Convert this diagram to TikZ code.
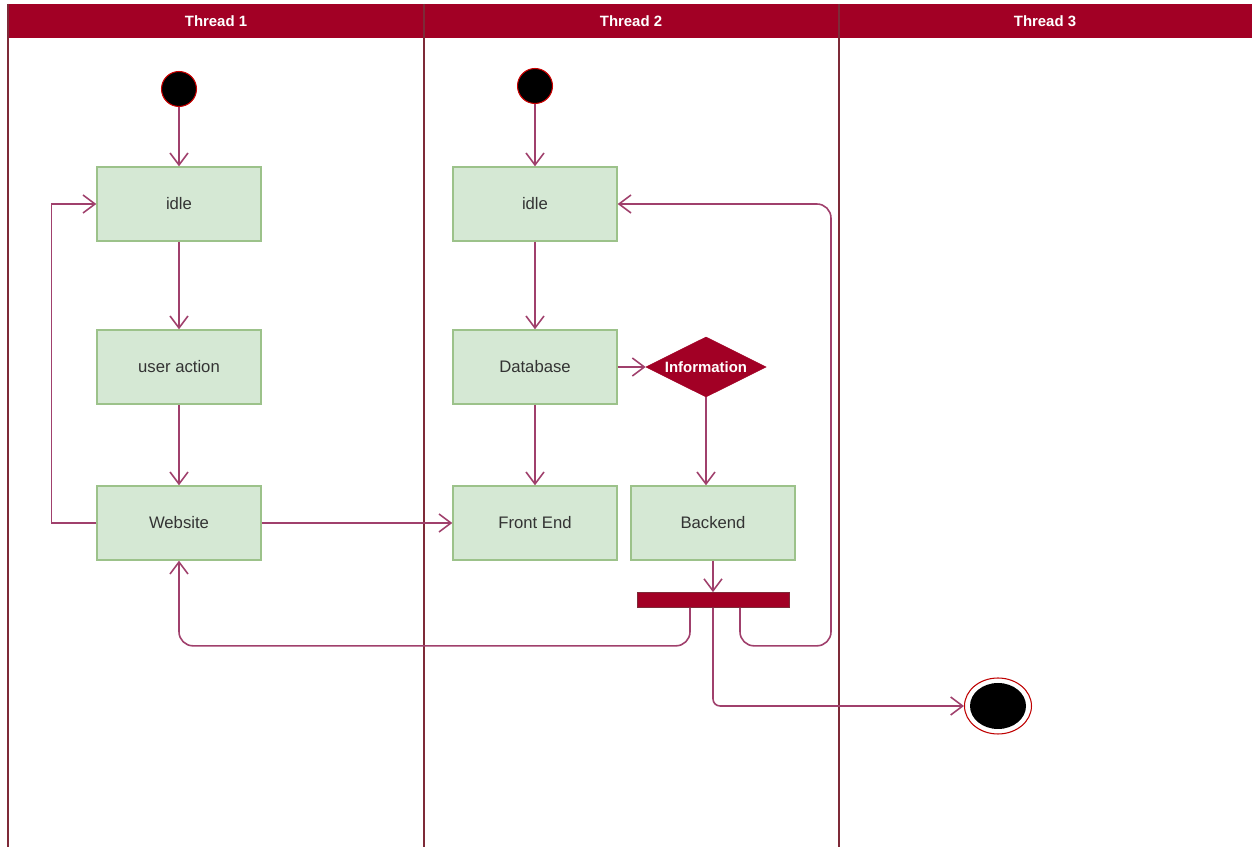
\documentclass[tikz,border=0pt]{standalone}
\usepackage{fontspec}
\setmainfont{Liberation Sans}
\usetikzlibrary{calc, shapes.geometric, arrows.meta}

\definecolor{lanered}{HTML}{A20025}
\definecolor{laneline}{HTML}{7E2A38}
\definecolor{flowc}{HTML}{A0406C}
\definecolor{boxfill}{HTML}{D5E8D4}
\definecolor{boxline}{HTML}{9CC28A}

\tikzset{
	state/.style = {draw=boxline, fill=boxfill, line width=0.8pt, minimum width=3.28cm, minimum height=1.48cm, font=\fontsize{9.5}{11}\selectfont, text=black!80},
	startdot/.style = {circle, fill=black, draw=red!80!black, line width=0.6pt, minimum size=0.7cm, inner sep=0pt},
	flow/.style = {draw=flowc, line width=0.9pt, -{Straight Barb[length=2.4mm, width=3.6mm, line width=0.9pt]}},
	lanetitle/.style = {text=white, font=\bfseries\fontsize{8.5}{10}\selectfont}
}

\begin{document}
\begin{tikzpicture}[x=0.02cm, y=-0.02cm]
	\useasboundingbox (0,0) rectangle (1252,847);
	\fill[white] (0,0) rectangle (1252,847);

	% lanes
	\fill[lanered] (8,4) rectangle (1252,38);
	\foreach \x in {8, 424, 839} {
		\draw[laneline, line width=1.1pt] (\x,4) -- (\x,847);
	}
	\node[lanetitle] (t1) at (216,21) {Thread 1};
	\node[lanetitle] (t2) at (631,21) {Thread 2};
	\node[lanetitle] (t3) at (1045,21) {Thread 3};

	% thread 1
	\node[startdot] (start1) at (179,89) {};
	\node[state] (idle1) at (179,204) {idle};
	\node[state] (user) at (179,367) {user action};
	\node[state] (web) at (179,523) {Website};

	% thread 2
	\node[startdot] (start2) at (535,86) {};
	\node[state] (idle2) at (535,204) {idle};
	\node[state] (db) at (535,367) {Database};
	\node[state] (front) at (535,523) {Front End};
	\node[state] (back) at (713,523) {Backend};
	\node[diamond, aspect=2, fill=lanered, draw=lanered, inner sep=0pt, minimum width=2.4cm, minimum height=1.2cm, text=white, font=\bfseries\fontsize{8.5}{10}\selectfont] (info) at (706,367) {Information};
	\node[fill=lanered, draw=laneline, minimum width=3.04cm, minimum height=0.3cm, inner sep=0pt] (bar) at (713,600) {};

	% end
	\node[ellipse, draw=red!75!black, fill=white, line width=0.6pt, minimum width=1.34cm, minimum height=1.12cm] (stop) at (998,706) {};
	\fill[black] (stop.center) ellipse (28 and 23);

	% connectors
	\draw[flow] (start1) -- (idle1);
	\draw[flow] (idle1) -- (user);
	\draw[flow] (user) -- (web);
	\draw[flow] (web.west) -- ++(-45,0) |- (idle1.west);
	\draw[flow] (web) -- (front);

	\draw[flow] (start2) -- (idle2);
	\draw[flow] (idle2) -- (db);
	\draw[flow] (db) -- (front);
	\draw[flow] (db) -- (info);
	\draw[flow] (info.south) -- (info.south |- back.north);
	\draw[flow] (back) -- (bar);

	\draw[flow, rounded corners=8] ($(bar.south)+(-23,0)$) -- ++(0,38) -| (web.south);
	\draw[flow, rounded corners=8] ($(bar.south)+(27,0)$) -- ++(0,38) -- ++(91,0) |- (idle2.east);
	\draw[flow, rounded corners=4] (bar.south) |- (stop.west);
\end{tikzpicture}
\end{document}
